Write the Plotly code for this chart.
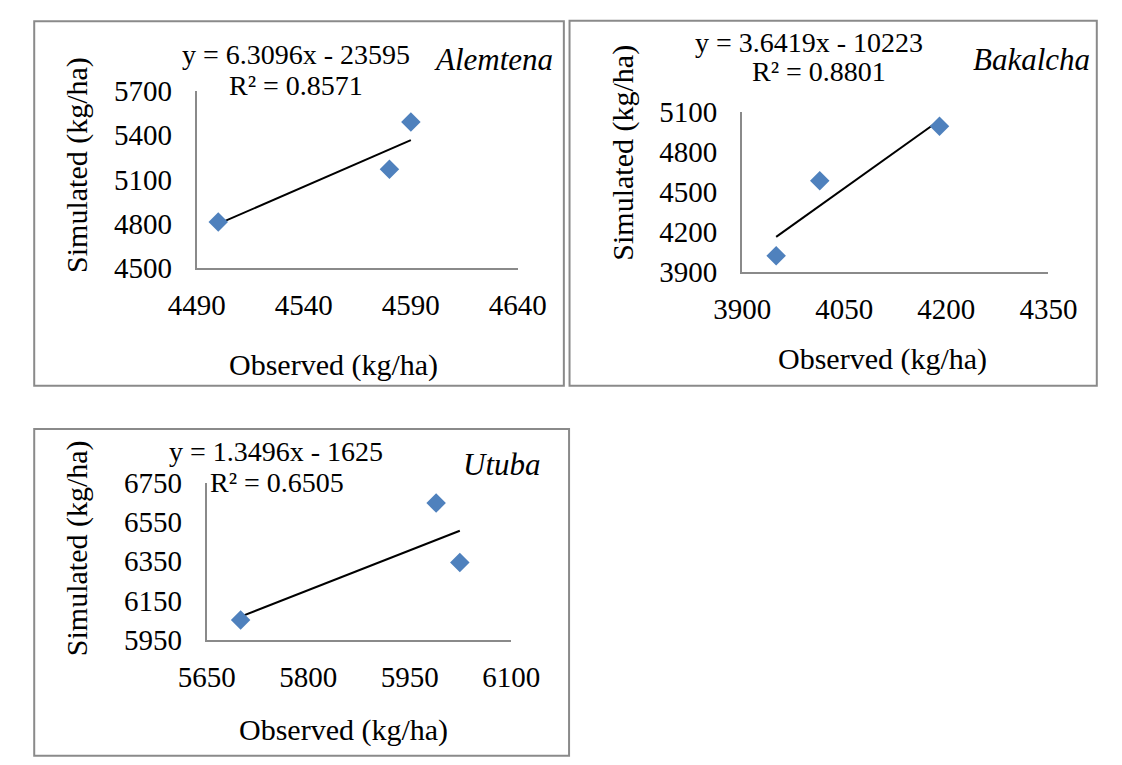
import plotly.graph_objects as go

# ---------------- data ----------------
sites = ["Alemtena", "Bakalcha", "Utuba"]

alem_obs = [4500, 4580, 4590]
alem_sim = [4811, 5168, 5488]

bak_obs = [3950, 4014, 4190]
bak_sim = [4020, 4584, 4992]

utu_obs = [5700, 5989, 6024]
utu_sim = [6051, 6646, 6344]

slopes = [6.3096, 3.6419, 1.3496]
intercepts = [-23595, -10223, -1625]
r2_values = ["0.8571", "0.8801", "0.6505"]
eq_labels = ["y = 6.3096x - 23595", "y = 3.6419x - 10223", "y = 1.3496x - 1625"]

x_ranges = [[4490, 4640], [3900, 4350], [5650, 6100]]
x_dticks = [50, 150, 150]
y_ranges = [[4500, 5700], [3900, 5100], [5950, 6750]]
y_dticks = [300, 300, 200]

x_title = "Observed (kg/ha)"
y_title = "Simulated (kg/ha)"

# ---------------- layout geometry (pixels) ----------------
W, H = 1122, 765
FONT = "Liberation Serif, Times New Roman, serif"
GRAY = "#8a8a8a"
BLUE = "#4F81BD"

# plot area px boxes: (x0, x1, ytop, ybottom)
boxes = [(177, 515.5, 78, 263), (752, 1075, 100, 267), (187.5, 508.5, 487, 651)]
borders = [(5.5, 5.5, 564, 386), (570, 5, 1126, 386), (5.5, 431, 569.5, 772)]

def fx(px):
    return px / W

def fy(py):
    return 1 - py / H

fig = go.Figure()
obs_all = [alem_obs, bak_obs, utu_obs]
sim_all = [alem_sim, bak_sim, utu_sim]

for i in range(3):
    xa = "x" if i == 0 else f"x{i+1}"
    ya = "y" if i == 0 else f"y{i+1}"
    obs, sim = obs_all[i], sim_all[i]
    tx = [min(obs), max(obs)]
    ty = [slopes[i] * v + intercepts[i] for v in tx]
    fig.add_trace(go.Scatter(x=tx, y=ty, mode="lines", xaxis=xa, yaxis=ya,
                             line=dict(color="black", width=2), showlegend=False,
                             hoverinfo="skip"))
    fig.add_trace(go.Scatter(x=obs, y=sim, mode="markers", xaxis=xa, yaxis=ya,
                             marker=dict(symbol="diamond", size=15, color=BLUE,
                                         line=dict(width=0)),
                             showlegend=False, name=sites[i]))

layout = dict(width=W, height=H, margin=dict(l=0, r=0, t=0, b=0), autosize=False,
              paper_bgcolor="white", plot_bgcolor="white",
              font=dict(family=FONT, size=29, color="black"))

for i in range(3):
    x0, x1, yt, yb = boxes[i]
    xk = "xaxis" if i == 0 else f"xaxis{i+1}"
    yk = "yaxis" if i == 0 else f"yaxis{i+1}"
    ya = "y" if i == 0 else f"y{i+1}"
    xa = "x" if i == 0 else f"x{i+1}"
    layout[xk] = dict(domain=[fx(x0), fx(x1)], anchor=ya, range=x_ranges[i],
                      tick0=x_ranges[i][0], dtick=x_dticks[i], showgrid=False,
                      zeroline=False, showline=True, linecolor=GRAY, linewidth=2,
                      ticks="", ticklabelstandoff=10,
                      tickfont=dict(family=FONT, size=29, color="black"))
    layout[yk] = dict(domain=[fy(yb), fy(yt)], anchor=xa, range=y_ranges[i],
                      tick0=y_ranges[i][0], dtick=y_dticks[i], showgrid=False,
                      zeroline=False, showline=True, linecolor=GRAY, linewidth=2,
                      ticks="", ticklabelstandoff=17,
                      tickfont=dict(family=FONT, size=29, color="black"))

fig.update_layout(**layout)

for (bx0, by0, bx1, by1) in borders:
    fig.add_shape(type="rect", xref="paper", yref="paper",
                  x0=fx(bx0), x1=fx(bx1), y0=fy(by1), y1=fy(by0),
                  line=dict(color=GRAY, width=2), fillcolor="rgba(0,0,0,0)")

eq_pos = [(282, 40), (822, 28), (260, 454)]
r2_pos = [(282, 73), (833, 58), (262, 487)]
site_pos = [(490, 45), (1057, 45), (499, 468)]
xt_pos = [(321, 364), (900, 358), (332, 745)]
yt_pos = [(50, 155), (626, 143), (50, 555)]

for i in range(3):
    fig.add_annotation(x=fx(eq_pos[i][0]), y=fy(eq_pos[i][1]), xref="paper", yref="paper",
                       text=eq_labels[i], showarrow=False, font=dict(size=28),
                       xanchor="center", yanchor="middle")
    fig.add_annotation(x=fx(r2_pos[i][0]), y=fy(r2_pos[i][1]), xref="paper", yref="paper",
                       text="R² = " + r2_values[i], showarrow=False, font=dict(size=28),
                       xanchor="center", yanchor="middle")
    fig.add_annotation(x=fx(site_pos[i][0]), y=fy(site_pos[i][1]), xref="paper", yref="paper",
                       text="<i>" + sites[i] + "</i>", showarrow=False, font=dict(size=31),
                       xanchor="center", yanchor="middle")
    fig.add_annotation(x=fx(xt_pos[i][0]), y=fy(xt_pos[i][1]), xref="paper", yref="paper",
                       text=x_title, showarrow=False, font=dict(size=30),
                       xanchor="center", yanchor="middle")
    fig.add_annotation(x=fx(yt_pos[i][0]), y=fy(yt_pos[i][1]), xref="paper", yref="paper",
                       text=y_title, showarrow=False, font=dict(size=30), textangle=-90,
                       xanchor="center", yanchor="middle")

fig.write_html("out.html", config={"responsive": False, "displayModeBar": False},
               post_script="document.body.style.margin='0';document.body.style.overflow='hidden';")
